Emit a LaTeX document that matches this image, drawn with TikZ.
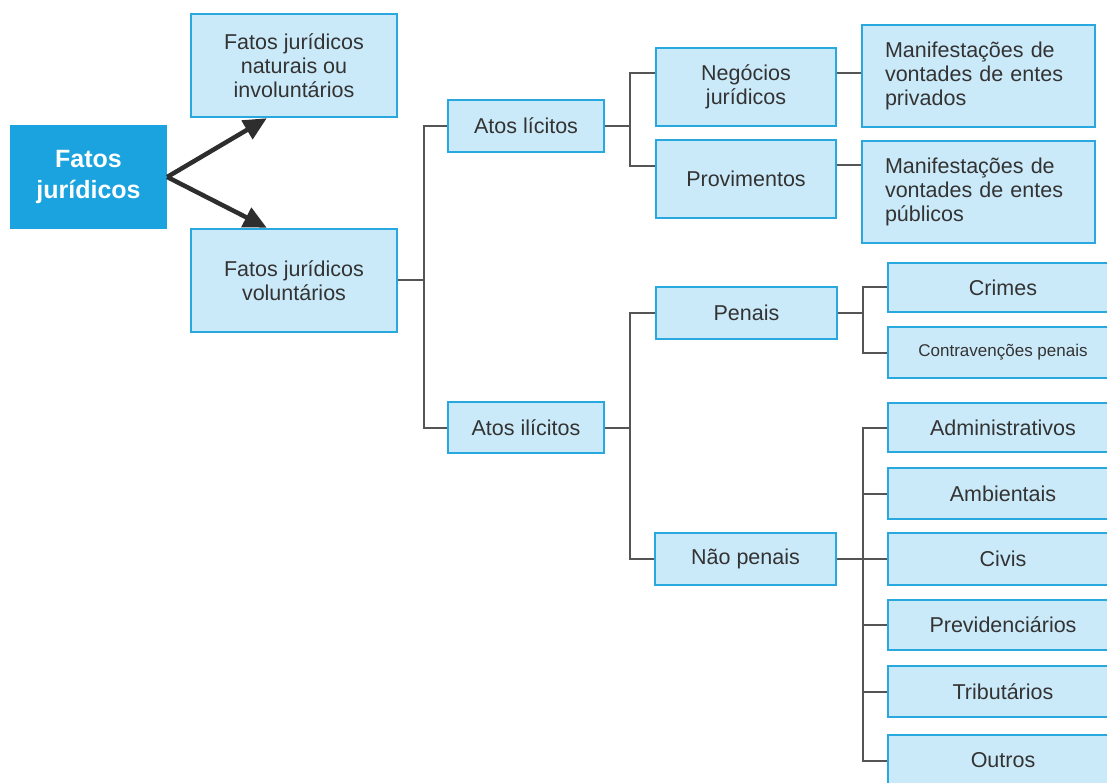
\documentclass[tikz,border=0pt]{standalone}
\usepackage{fontspec}
\setmainfont{Liberation Sans}
\usetikzlibrary{arrows.meta,calc}
\definecolor{boxfill}{HTML}{CBEAF9}
\definecolor{boxline}{HTML}{29A8E0}
\definecolor{rootfill}{HTML}{1AA3DF}
\definecolor{txt}{HTML}{333333}
\definecolor{conn}{HTML}{555555}
\definecolor{arr}{HTML}{2E2E2E}
\begin{document}
\begin{tikzpicture}[x=1pt,y=-1pt,
  box/.style={draw=boxline, fill=boxfill, line width=2.5pt, text=txt,
    font=\fontsize{21.5}{24}\selectfont, align=center, inner sep=0pt},
  rootbox/.style={fill=rootfill, text=white, inner sep=0pt, align=center,
    font=\fontsize{25}{31}\selectfont\bfseries},
  sz/.style 2 args={minimum width=#1pt, minimum height=#2pt},
  conline/.style={draw=conn, line width=2pt},
  bigarrow/.style={draw=arr, line width=4.5pt, -{Triangle[length=23pt,width=21pt]}}
]
\useasboundingbox (0,0) rectangle (1107,783);
\fill[white] (0,0) rectangle (1107,783);
\clip (0,0) rectangle (1107,783);

% root
\node[rootbox, sz={157}{104}] (root) at (88.5,177) {Fatos\\jurídicos};
\node[box, sz={206}{103}] (nat) at (294,65.5) {Fatos jurídicos\\naturais ou\\involuntários};
\node[box, sz={206}{103}] (vol) at (294,280.5) {Fatos jurídicos\\voluntários};

\node[box, sz={156}{52}] (lic) at (526,126) {Atos lícitos};
\node[box, sz={156}{51}] (ilic) at (526,427.5) {Atos ilícitos};

\node[box, sz={180}{78}] (neg) at (746,87) {Negócios\\jurídicos};
\node[box, sz={180}{78}] (prov) at (746,179) {Provimentos};
\node[box, sz={233}{102}, align=left, text width=187pt] (mpriv) at (978.5,76) {Manifestações de\\vontades de entes\\privados};
\node[box, sz={233}{102}, align=left, text width=187pt] (mpub) at (978.5,192) {Manifestações de\\vontades de entes\\públicos};

\node[box, sz={181}{52}] (pen) at (746.5,313) {Penais};
\node[box, sz={181}{52}] (naop) at (745.5,559) {Não penais};

\node[box, sz={230}{49}] (crimes) at (1003,287.5) {Crimes};
\node[box, sz={230}{51}, font=\fontsize{17}{20}\selectfont] (contrav) at (1003,352.5) {Contravenções penais};
\node[box, sz={230}{49}] (adm) at (1003,427.5) {Administrativos};
\node[box, sz={230}{51}] (amb) at (1003,493.5) {Ambientais};
\node[box, sz={230}{52}] (civ) at (1003,559) {Civis};
\node[box, sz={230}{50}] (prev) at (1003,625) {Previdenciários};
\node[box, sz={230}{51}] (trib) at (1003,691.5) {Tributários};
\node[box, sz={230}{51}] (out) at (1003,760.5) {Outros};

% arrows
\draw[bigarrow] (root.east) -- ([xshift=77pt]nat.south west);
\draw[bigarrow] (root.east) -- ([xshift=77pt]vol.north west);

% bus coordinates (same height as the parent's east side)
\coordinate (b1) at ($(vol.east)+(26,0)$);
\coordinate (b2) at ($(lic.east)+(25,0)$);
\coordinate (b3) at ($(ilic.east)+(25,0)$);
\coordinate (b4) at ($(pen.east)+(25,0)$);
\coordinate (b5) at ($(naop.east)+(26,0)$);

\draw[conline] (vol.east) -- (b1);
\draw[conline] (lic.west) -| (b1);
\draw[conline] (ilic.west) -| (b1);

\path ([yshift=14pt]neg.west) coordinate (negw);
\path ([yshift=13pt]prov.west) coordinate (provw);
\draw[conline] (lic.east) -- (b2);
\draw[conline] (negw) -| (b2);
\draw[conline] (provw) -| (b2);

\path ([yshift=14pt]neg.east) coordinate (nege);
\path ([yshift=14pt]prov.east) coordinate (prove);
\draw[conline] (nege) -- (nege -| mpriv.west);
\draw[conline] (prove) -- (prove -| mpub.west);

\draw[conline] (ilic.east) -- (b3);
\draw[conline] (pen.west) -| (b3);
\draw[conline] (naop.west) -| (b3);

\draw[conline] (pen.east) -- (b4);
\draw[conline] (crimes.west) -| (b4);
\draw[conline] (contrav.west) -| (b4);

\draw[conline] (naop.east) -- (b5);
\draw[conline] (civ.west) -- (b5);
\draw[conline] (adm.west) -| (b5);
\draw[conline] (amb.west) -| (b5);
\draw[conline] (prev.west) -| (b5);
\draw[conline] (trib.west) -| (b5);
\draw[conline] (out.west) -| (b5);
\end{tikzpicture}
\end{document}
